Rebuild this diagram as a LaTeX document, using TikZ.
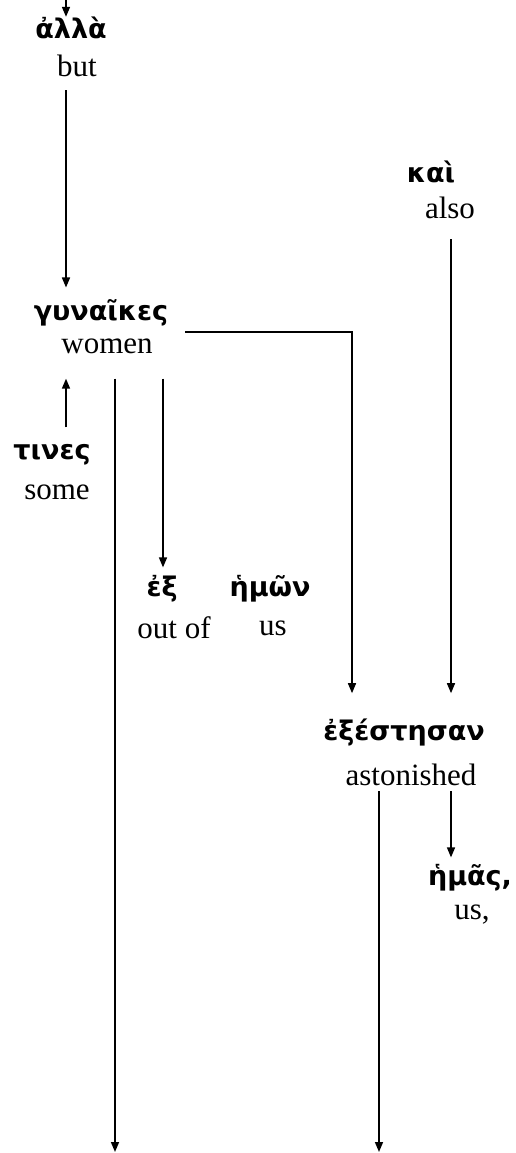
\documentclass[tikz,border=0pt]{standalone}
\usepackage{fontspec}
\setmainfont{Liberation Serif}
\newfontfamily\grk{DejaVu Sans}
\usetikzlibrary{arrows.meta,positioning}
\tikzset{
  greekword/.style={font=\grk\bfseries\fontsize{27}{32}\selectfont,inner sep=0pt},
  glossword/.style={font=\fontsize{31}{36}\selectfont,inner sep=0pt},
  linkarrow/.style={-{Triangle[length=10pt,width=8pt]},line width=1.5pt}
}

\begin{document}
\begin{tikzpicture}[x=1pt,y=-1pt]
  \useasboundingbox (0,0) rectangle (516,1153);
  % words with their glosses
  \node[greekword] (alla) at (71,28) {ἀλλὰ};
  \node[glossword] (but) at (77,66) {but};
  \node[greekword] (kai) at (431,172) {καὶ};
  \node[glossword] (also) at (450,208) {also};
  \node[greekword] (gyn) at (101,313) {γυναῖκες};
  \node[glossword] (women) at (107,346) {women};
  \node[greekword] (tines) at (52,455) {τινες};
  \node[glossword] (some) at (57,492) {some};
  \node[greekword] (ex) at (162,589) {ἐξ};
  \node[glossword] (outof) at (174,628) {out of};
  \node[greekword] (hmon) at (270,589) {ἡμῶν};
  \node[glossword] (us) at (273,628) {us};
  \node[greekword] (exest) at (404,733) {ἐξέστησαν};
  \node[glossword] (astonished) at (411,775) {astonished};
  \node[greekword] (hmas) at (470,878) {ἡμᾶς,};
  \node[glossword] (usc) at (472,915) {us,};
  % connectors
  \coordinate (entry) at (66,0);
  \coordinate (exit1) at (115,1152);
  \coordinate (exit2) at (379,1152);
  \draw[linkarrow] (entry) -- ([yshift=0pt]entry |- alla.north);
  \draw[linkarrow] ([yshift=-13pt]but.south -| entry) -- ([yshift=12pt]gyn.north -| entry);
  \draw[linkarrow] ([yshift=17pt]tines.north -| entry) -- ([yshift=-25pt]women.south -| entry);
  \draw[linkarrow] ([xshift=17pt,yshift=-19pt]gyn.east) -| ([yshift=26pt]exest.north -| 352,0);
  \draw[linkarrow] ([yshift=-25pt]women.south -| 163,0) -- ([yshift=8pt]ex.north -| 163,0);
  \draw[linkarrow] ([yshift=-25pt]women.south -| exit1) -- (exit1);
  \draw[linkarrow] ([yshift=-20pt]also.south -| 451,0) -- ([yshift=26pt]exest.north -| 451,0);
  \draw[linkarrow] ([yshift=-5pt]astonished.south -| 451,0) -- ([yshift=7pt]hmas.north -| 451,0);
  \draw[linkarrow] ([yshift=-5pt]astonished.south -| exit2) -- (exit2);
\end{tikzpicture}
\end{document}
